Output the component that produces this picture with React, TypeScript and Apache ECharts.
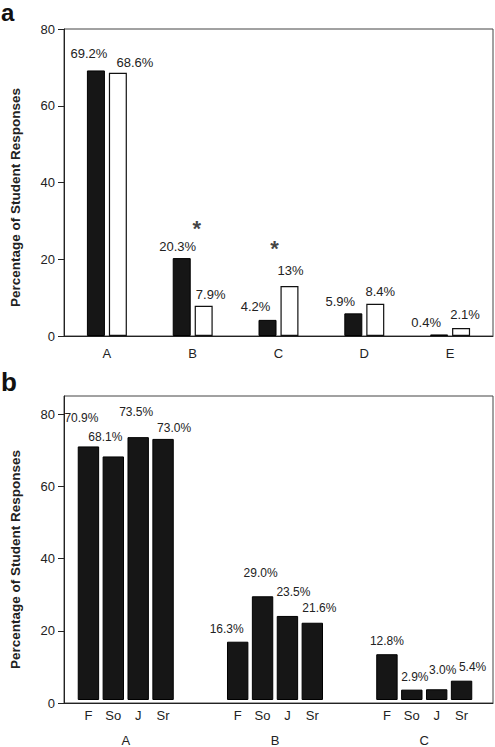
import React, { useEffect, useRef } from "react";
import * as echarts from "echarts";

// ---- Data ----
const categoriesA = ["A", "B", "C", "D", "E"];
const filledA = [69.2, 20.3, 4.2, 5.9, 0.4];
const openA = [68.6, 7.9, 13, 8.4, 2.1];
const significanceA: (number | null)[] = [null, 29.2, 24.2, null, null];

const groupsB = ["A", "B", "C"];
const yearsB = ["F", "So", "J", "Sr"];
const valuesB_A = [70.9, 68.1, 73.5, 73.0];
const valuesB_B = [16.3, 29.0, 23.5, 21.6];
const valuesB_C = [12.8, 2.9, 3.0, 5.4];

const yTicks = [0, 20, 40, 60, 80];
const yTitle = "Percentage of Student Responses";

// ---- Layout (label nudges, not data) ----
const offFilledA = [[-7, -5], [-4, 0], [-12, -2], [-13, 0], [-13, 0]];
const offOpenA = [[17, 1], [7, 0], [1, -4], [5, -1], [4, -2]];
const offSigA = [0, 4, -4, 0, 0];
const offB = [
  [[-7, -17], [-8, -8], [-2, -14], [11, 0]],
  [[-11, -2], [-2, -12], [6, -13], [7, -4]],
  [[0, -2], [3, -2], [6, -8], [11, -3]],
];

const FONT = "'Liberation Sans', Arial, Helvetica, sans-serif";
const TXT = "#222";

export default function App() {
  const ref = useRef<HTMLDivElement>(null);
  useEffect(() => {
    if (!ref.current) return;
    const chart = echarts.init(ref.current, undefined, { renderer: "svg" });

    const valsB = [valuesB_A, valuesB_B, valuesB_C];
    const slots: string[] = [];
    const slotData: any[] = [];
    groupsB.forEach((g, gi) => {
      yearsB.forEach((y, yi) => {
        slots.push(y);
        slotData.push({
          value: valsB[gi][yi],
          label: { offset: offB[gi][yi] },
        });
      });
      if (gi < groupsB.length - 1) {
        slots.push("", "");
        slotData.push("-", "-");
      }
    });

    const nameStyle = { fontFamily: FONT, fontSize: 13.5, fontWeight: "bold", color: TXT };
    const yAxisCommon = {
      type: "value",
      min: 0,
      interval: 20,
      name: yTitle,
      nameLocation: "middle",
      nameGap: 42,
      axisLine: { show: true, lineStyle: { color: "#222", width: 1 } },
      axisTick: { show: true, length: 6, lineStyle: { color: "#222" }, customValues: yTicks },
      axisLabel: { fontFamily: FONT, fontSize: 13, color: TXT, margin: 9, customValues: yTicks },
      splitLine: { show: false },
    };

    chart.setOption({
      animation: false,
      textStyle: { fontFamily: FONT },
      graphic: [
        { type: "text", left: 1, top: 0, style: { text: "a", font: `bold 24px ${FONT}`, fill: "#111" } },
        { type: "text", left: 1, top: 369, style: { text: "b", font: `bold 26px ${FONT}`, fill: "#111" } },
      ],
      grid: [
        { left: 55, width: 438, top: 29, height: 307, show: true, borderColor: "#444", borderWidth: 1, backgroundColor: "transparent" },
        { left: 55, width: 438, top: 396, height: 307, show: true, borderColor: "#444", borderWidth: 1, backgroundColor: "transparent" },
        { left: 76, width: 398, top: 396, height: 307 },
      ],
      xAxis: [
        {
          type: "category",
          gridIndex: 0,
          data: categoriesA,
          axisLine: { lineStyle: { color: "#222" } },
          axisTick: { show: false },
          axisLabel: { fontFamily: FONT, fontSize: 13, color: TXT, margin: 11 },
        },
        {
          type: "value",
          gridIndex: 1,
          min: 0,
          max: 1,
          axisLine: { show: true, onZero: false, lineStyle: { color: "#222" } },
          axisTick: { show: false },
          axisLabel: { show: false },
          splitLine: { show: false },
        },
        {
          type: "category",
          gridIndex: 2,
          data: slots,
          axisLine: { show: false },
          axisTick: { show: false },
          axisLabel: { interval: 0, fontFamily: FONT, fontSize: 13, color: TXT, margin: 9 },
        },
        {
          type: "value",
          gridIndex: 2,
          position: "bottom",
          offset: 24,
          min: 0,
          max: slots.length,
          axisLine: { show: false },
          axisTick: { show: false },
          splitLine: { show: false },
          axisLabel: {
            fontFamily: FONT,
            fontSize: 13,
            color: TXT,
            margin: 10,
            customValues: groupsB.map((_, i) => 2 + i * 6),
            formatter: (v: number) => groupsB[Math.round((v - 2) / 6)] ?? "",
          },
        },
      ],
      yAxis: [
        { ...yAxisCommon, gridIndex: 0, max: 80, nameTextStyle: { ...nameStyle, padding: [0, 30, 0, 0] } },
        { ...yAxisCommon, gridIndex: 1, max: 85, nameTextStyle: { ...nameStyle, padding: [0, 20, 0, 0] } },
        { type: "value", gridIndex: 2, min: 0, max: 85, show: false },
      ],
      series: [
        {
          name: "Filled",
          type: "bar",
          xAxisIndex: 0,
          yAxisIndex: 0,
          barWidth: 18,
          barGap: "22%",
          itemStyle: { color: "#161616", borderColor: "#000", borderWidth: 1 },
          label: {
            show: true,
            position: "top",
            distance: 5,
            fontFamily: FONT,
            fontSize: 13,
            color: TXT,
            formatter: (p: any) => `${p.value}%`,
          },
          data: filledA.map((v, i) => ({ value: v, label: { offset: offFilledA[i] } })),
        },
        {
          name: "Open",
          type: "bar",
          xAxisIndex: 0,
          yAxisIndex: 0,
          barWidth: 18,
          barGap: "22%",
          itemStyle: { color: "#fff", borderColor: "#111", borderWidth: 1.2 },
          label: {
            show: true,
            position: "top",
            distance: 5,
            fontFamily: FONT,
            fontSize: 13,
            color: TXT,
            formatter: (p: any) => `${p.value}%`,
          },
          data: openA.map((v, i) => ({ value: v, label: { offset: offOpenA[i] } })),
        },
        {
          name: "Significant",
          type: "scatter",
          xAxisIndex: 0,
          yAxisIndex: 0,
          symbolSize: 0,
          label: {
            show: true,
            position: "inside",
            formatter: "*",
            fontFamily: FONT,
            fontSize: 22,
            fontWeight: "bold",
            color: "#111",
          },
          data: significanceA.map((v, i) =>
            v == null ? "-" : { value: v, label: { offset: [offSigA[i], 5] } }
          ),
        },
        {
          name: "By year",
          type: "bar",
          xAxisIndex: 2,
          yAxisIndex: 2,
          barWidth: "86%",
          itemStyle: { color: "#161616", borderColor: "#000", borderWidth: 1 },
          label: {
            show: true,
            position: "top",
            distance: 5,
            fontFamily: FONT,
            fontSize: 12,
            color: TXT,
            formatter: (p: any) => `${Number(p.value).toFixed(1)}%`,
          },
          data: slotData,
        },
      ],
    });
    return () => chart.dispose();
  }, []);

  return (
    <div
      ref={ref}
      style={{ position: "fixed", left: 0, top: 0, width: 495, height: 747, background: "#fff" }}
    />
  );
}
